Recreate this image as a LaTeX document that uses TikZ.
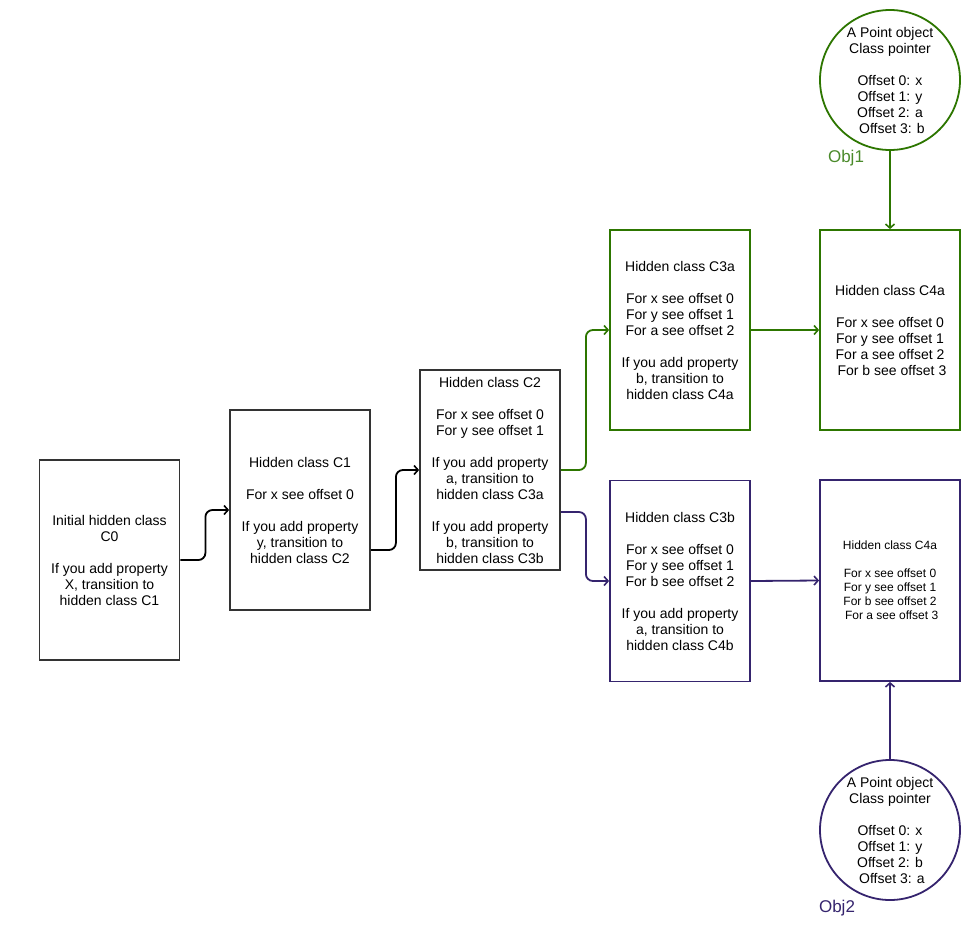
\documentclass[tikz,border=0pt]{standalone}
\usepackage{fontspec}
\setmainfont{Liberation Sans}
\usetikzlibrary{arrows.meta}
\definecolor{grn}{HTML}{2D7600}
\definecolor{grntext}{HTML}{4A8A2A}
\definecolor{prp}{HTML}{35246E}
\definecolor{boxk}{HTML}{333333}
\begin{document}
\begin{tikzpicture}[x=1pt,y=-1pt,
  cls/.style={draw=boxk, line width=1.8pt, minimum width=140pt, minimum height=200pt, inner sep=0pt, align=center, font=\fontsize{14}{16}\selectfont, text=black},
  objc/.style={circle, line width=1.8pt, minimum size=140pt, inner sep=0pt, align=center, font=\fontsize{14}{16}\selectfont, text=black},
  conn/.style={line width=1.8pt, rounded corners=7pt, -{Straight Barb[length=4pt,width=9pt,line width=1.6pt]}},
  lbl/.style={font=\fontsize{17}{20}\selectfont, inner sep=0pt}
]
\useasboundingbox (0,0) rectangle (980,940);
\fill[white] (0,0) rectangle (980,940);

\node[cls] (C0) at (109.5,560) {Initial hidden class\\C0\\[16pt]If you add property\\X, transition to\\hidden class C1};
\node[cls] (C1) at (300,510) {Hidden class C1\\[16pt]For x see offset 0\\[16pt]If you add property\\y, transition to\\hidden class C2};
\node[cls] (C2) at (490,470) {Hidden class C2\\[16pt]For x see offset 0\\For y see offset 1\\[16pt]If you add property\\a, transition to\\hidden class C3a\\[16pt]If you add property\\b, transition to\\hidden class C3b};
\node[cls, draw=grn] (C3a) at (680,330) {Hidden class C3a\\[16pt]For x see offset 0\\For y see offset 1\\For a see offset 2\\[16pt]If you add property\\b, transition to\\hidden class C4a};
\node[cls, draw=prp, minimum height=201pt] (C3b) at (680,581) {Hidden class C3b\\[16pt]For x see offset 0\\For y see offset 1\\For b see offset 2\\[16pt]If you add property\\a, transition to\\hidden class C4b};
\node[cls, draw=grn] (C4a) at (890,330) {Hidden class C4a\\[16pt]For x see offset 0\\For y see offset 1\\For a see offset 2\\\ For b see offset 3};
\node[cls, draw=prp, minimum height=201pt, font=\fontsize{12}{14}\selectfont] (C4b) at (890,580.5) {Hidden class C4a\\[14pt]For x see offset 0\\For y see offset 1\\For b see offset 2\\\ For a see offset 3};

\node[objc, draw=grn] (O1) at (890,80) {A Point object\\Class pointer\\[16pt]Offset 0: x\\Offset 1: y\\Offset 2: a\\\ Offset 3: b};
\node[objc, draw=prp] (O2) at (890,830) {A Point object\\Class pointer\\[16pt]Offset 0: x\\Offset 1: y\\Offset 2: b\\\ Offset 3: a};

\node[lbl, text=grntext] (L1) at (846,158) {Obj1};
\node[lbl, text=prp] (L2) at (837,908) {Obj2};

\draw[conn, draw=black] (C0.east) -- ++(25,0) |- (C1.west);
\draw[conn, draw=black] ([yshift=-40pt]C1.east) -- ++(25,0) |- (C2.west);
\draw[conn, draw=grn] (C2.east) -- ++(25,0) |- (C3a.west);
\draw[conn, draw=prp] ([yshift=-42pt]C2.east) -- ++(25,0) |- (C3b.west);
\draw[conn, draw=grn] (C3a.east) -- (C4a.west);
\draw[conn, draw=prp] (C3b.east) -- (C4b.west);
\draw[conn, draw=grn] (O1.south) -- (C4a.north);
\draw[conn, draw=prp] (O2.north) -- (C4b.south);
\end{tikzpicture}
\end{document}
